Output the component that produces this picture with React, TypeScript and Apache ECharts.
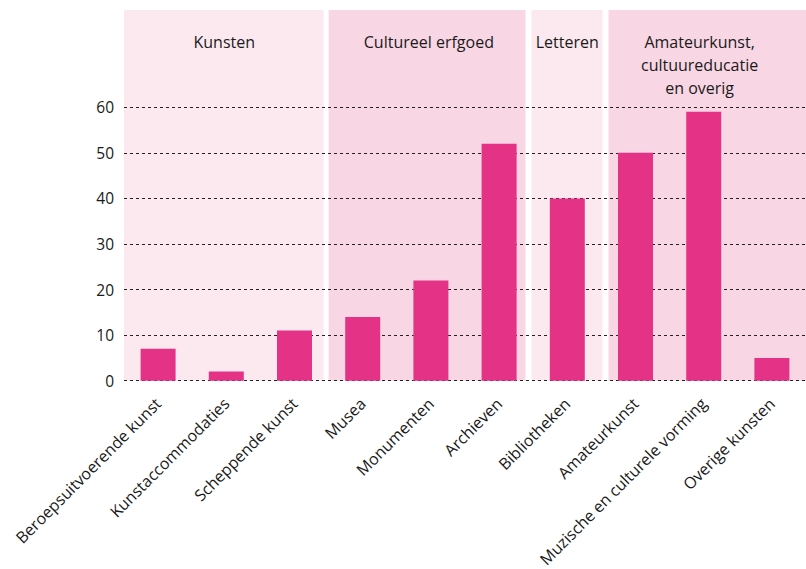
import React, { useEffect, useRef } from "react";
import * as echarts from "echarts";

const categories = [
  "Beroepsuitvoerende kunst",
  "Kunstaccommodaties",
  "Scheppende kunst",
  "Musea",
  "Monumenten",
  "Archieven",
  "Bibliotheken",
  "Amateurkunst",
  "Muzische en culturele vorming",
  "Overige kunsten",
];
const values = [7, 2, 11, 14, 22, 52, 40, 50, 59, 5];
const yMax = 60;
const yInterval = 10;

// panels expressed in category units (0..10)
const panelTitles = ["Kunsten", "Cultureel erfgoed", "Letteren", "Amateurkunst,\ncultuureducatie\nen overig"];
const panelStart = [0, 3.0, 5.975, 7.104];
const panelEnd = [2.926, 5.887, 7.016, 10];
const panelLabelAt = [1.47, 4.47, 6.5, 8.44];
const panelShade = [0, 1, 0, 1];

const FONT = "'Open Sans', 'Noto Sans', sans-serif";
const BAR = "#e43287";
const LIGHT = "#fce9f0";
const DARK = "#f8d6e4";
const TEXT = "#1a1a1a";

export default function App() {
  const ref = useRef<HTMLDivElement>(null);
  useEffect(() => {
    if (!ref.current) return;
    const chart = echarts.init(ref.current, null, { renderer: "svg" });
    const panelData = panelStart.map((s, i) => [s, panelEnd[i], panelLabelAt[i], panelShade[i]]);
    chart.setOption({
      animation: false,
      grid: [
        { left: 124, right: 0, top: 10, bottom: 188.3, outerBoundsMode: "none", containLabel: false },
        { left: 124, right: 0, top: 107.3, bottom: 188.3, outerBoundsMode: "none", containLabel: false },
      ],
      xAxis: [
        { type: "value", gridIndex: 0, min: 0, max: 10, show: false },
        {
          type: "category",
          gridIndex: 1,
          data: categories,
          axisLine: { show: false },
          axisTick: { show: false },
          axisLabel: {
            interval: 0,
            rotate: 45,
            margin: 20,
            fontSize: 16,
            fontFamily: FONT,
            color: TEXT,
          },
        },
      ],
      yAxis: [
        { type: "value", gridIndex: 0, min: 0, max: 1, show: false },
        {
          type: "value",
          gridIndex: 1,
          min: 0,
          max: yMax,
          interval: yInterval,
          z: 1,
          axisLine: { show: false },
          axisTick: { show: false },
          axisLabel: { margin: 10, fontSize: 15.5, fontFamily: FONT, color: TEXT },
          splitLine: { lineStyle: { color: "#222", width: 1, type: [3, 3] } },
        },
      ],
      series: [
        {
          type: "custom",
          xAxisIndex: 0,
          yAxisIndex: 0,
          z: 0,
          clip: false,
          silent: true,
          data: panelData,
          renderItem: (params: any, api: any) => {
            const s = api.value(0);
            const e = api.value(1);
            const lx = api.value(2);
            const shade = api.value(3);
            const p0 = api.coord([s, 1]);
            const p1 = api.coord([e, 0]);
            const pl = api.coord([lx, 1]);
            return {
              type: "group",
              children: [
                {
                  type: "rect",
                  shape: { x: p0[0], y: p0[1], width: p1[0] - p0[0], height: p1[1] - p0[1] },
                  style: { fill: shade ? DARK : LIGHT },
                },
                {
                  type: "text",
                  x: pl[0],
                  y: p0[1] + 20.5,
                  style: {
                    text: panelTitles[params.dataIndex],
                    align: "center",
                    verticalAlign: "top",
                    fontSize: 16,
                    lineHeight: 23,
                    fontFamily: FONT,
                    fill: TEXT,
                  },
                },
              ],
            };
          },
        },
        {
          type: "bar",
          xAxisIndex: 1,
          yAxisIndex: 1,
          z: 2,
          barWidth: 35,
          itemStyle: { color: BAR },
          data: values,
        },
      ],
    });
    return () => chart.dispose();
  }, []);
  return (
    <div
      ref={ref}
      style={{ position: "fixed", left: 0, top: 0, width: 806, height: 569, background: "#fff" }}
    />
  );
}
